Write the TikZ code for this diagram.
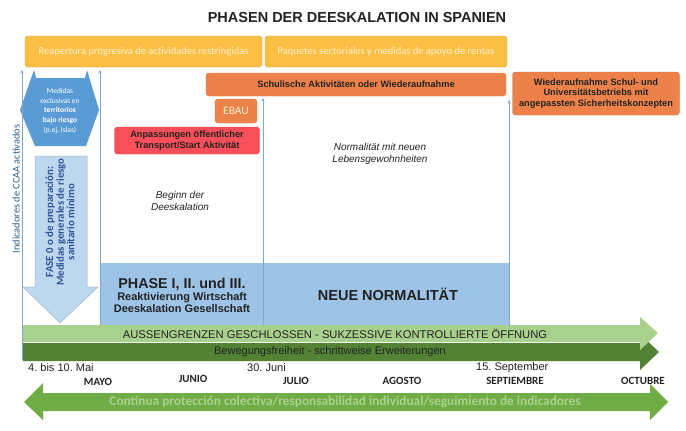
\documentclass[tikz,border=0pt]{standalone}
\usepackage{fontspec}
\setmainfont{Liberation Sans}
\newfontfamily\calibri{Carlito}
\usetikzlibrary{arrows.meta}
\frenchspacing
\newcommand\fsz[2]{\fontsize{#1}{#2}\selectfont}
\definecolor{ylw}{HTML}{FBBF45}
\definecolor{ylwtxt}{HTML}{FEF0CC}
\definecolor{org}{HTML}{EC824A}
\definecolor{redbox}{HTML}{F84F5B}
\definecolor{hexblue}{HTML}{5B9BD5}
\definecolor{arrblue}{HTML}{BDD7EE}
\definecolor{arrbluedraw}{HTML}{9CBBD8}
\definecolor{phblue}{HTML}{9DC3E6}
\definecolor{lgreen}{HTML}{A9D18E}
\definecolor{dgreen}{HTML}{548235}
\definecolor{mgreen}{HTML}{70AD47}
\definecolor{lineblue}{HTML}{7FA8CC}
\definecolor{fasetxt}{HTML}{2F5597}
\definecolor{indtxt}{HTML}{2E5E8C}
\definecolor{txtdark}{HTML}{222222}
\tikzset{
  ybox/.style={fill=ylw, draw=ylw!85!black, line width=0.4pt, rounded corners=3pt, inner sep=0pt},
  obox/.style={fill=org, draw=org!90!black, line width=0.4pt, rounded corners=3pt, inner sep=0pt, align=center},
  rbox/.style={fill=redbox, draw=redbox!90!black, line width=0.4pt, rounded corners=3pt, inner sep=0pt, align=center},
  vline/.style={draw=lineblue, line width=0.8pt, -{Stealth[length=3.5pt,width=3pt]}},
  lbl/.style={inner sep=0pt, text=txtdark},
  month/.style={inner sep=0pt, font=\calibri\bfseries\fsz{11}{12}, text=txtdark},
}
\begin{document}
\begin{tikzpicture}[x=1pt,y=-1pt]
\useasboundingbox (0,0) rectangle (686,431);
\fill[white] (0,0) rectangle (686,431);

% title
\node[lbl, font=\bfseries\fsz{14.5}{16}] (title) at (357,18) {PHASEN DER DEESKALATION IN SPANIEN};

% yellow boxes
\node[ybox, minimum width=237pt, minimum height=31pt, text=ylwtxt, font=\calibri\fsz{10.5}{12}] (y1) at (143.5,51.5) {Reapertura progresiva de actividades restringidas};
\node[ybox, minimum width=242pt, minimum height=31pt, text=ylwtxt, font=\calibri\fsz{10.5}{12}] (y2) at (386,51.5) {Paquetes sectoriales y medidas de apoyo de rentas};

% orange boxes
\node[obox, minimum width=300pt, minimum height=23pt, font=\bfseries\fsz{9.2}{10}, text=txtdark] (school) at (356,84.5) {Schulische Aktivitäten oder Wiederaufnahme};
\node[obox, minimum width=167pt, minimum height=43pt, font=\bfseries\fsz{9.2}{10.2}, text=txtdark] (univ) at (596,93.5) {Wiederaufnahme Schul- und\\Universitätsbetriebs mit\\angepassten Sicherheitskonzepten};
\node[obox, minimum width=42pt, minimum height=24pt, font=\calibri\fsz{11.5}{12}, text=ylwtxt] (ebau) at (236,111) {EBAU};
\node[rbox, minimum width=145pt, minimum height=27pt, font=\bfseries\fsz{9.2}{11}, text=txtdark] (transp) at (187,140.5) {Anpassungen öffentlicher\\Transport/Start Aktivität};

% blue hexagon (left-right arrow)
\fill[hexblue] (20,110) -- (34,70) -- (36,78) -- (85,78) -- (87,70) -- (99,110) -- (86,146) -- (35,146) -- cycle;
\node[inner sep=0pt, align=center, text=white, font=\calibri\fsz{7.5}{9.8}] (hex) at (60,111) {Medidas\\exclusivas en\\\textbf{territorios}\\\textbf{bajo riesgo}\\(p.ej. Islas)};

% FASE 0 down arrow
\filldraw[fill=arrblue, draw=arrbluedraw, line width=0.5pt] (35,156) -- (87,156) -- (87,287) -- (98,287) -- (60,323) -- (23,287) -- (35,287) -- cycle;
\node[inner sep=0pt, align=center, rotate=90, text=fasetxt, font=\calibri\bfseries\fsz{10.8}{10.6}] (fase) at (60,222) {FASE 0 o de preparación:\\Medidas generales de riesgo\\sanitario mínimo};

% indicator text
\node[inner sep=0pt, rotate=90, text=indtxt, font=\calibri\fsz{10.3}{11}] (ind) at (16,189) {Indicadores de CCAA activados};

% phase boxes
\fill[phblue] (100,263) rectangle (263,325);
\fill[phblue] (263,263) rectangle (509,325);
\node[inner sep=0pt, align=center, text=txtdark] (phase) at (182,295) {{\bfseries\fsz{14.3}{14}PHASE I, II. und III.}\\[0pt]{\bfseries\fsz{11}{14}Reaktivierung Wirtschaft}\\{\bfseries\fsz{11}{14}Deeskalation Gesellschaft}};
\node[inner sep=0pt, text=txtdark, font=\bfseries\fsz{14.5}{15}] (neue) at (388,294) {NEUE NORMALITÄT};

% italic labels
\node[inner sep=0pt, align=center, text=txtdark, font=\itshape\fsz{10}{12.5}] (beginn) at (180,201) {Beginn der\\Deeskalation};
\node[inner sep=0pt, align=center, text=txtdark, font=\itshape\fsz{10}{12.5}] (normal) at (380,154) {Normalität mit neuen\\Lebensgewohnheiten};

% green arrows
\fill[dgreen] (23,343) -- (640,343) -- (640,334) -- (659,352) -- (640,370) -- (640,361) -- (23,361) -- cycle;
\fill[lgreen] (23,325) -- (640,325) -- (640,317) -- (658,333) -- (640,350) -- (640,342) -- (23,342) -- cycle;
\node[inner sep=0pt, text=txtdark, font=\fsz{11.2}{12}] (aussen) at (335,334) {AUSSENGRENZEN GESCHLOSSEN - SUKZESSIVE KONTROLLIERTE ÖFFNUNG};
\node[inner sep=0pt, text=txtdark, font=\fsz{11}{12}] (beweg) at (330,352) {Bewegungsfreiheit - schrittweise Erweiterungen};

% vertical lines
\coordinate (l1b) at (22,360); \coordinate (l1t) at (22,70);
\coordinate (l2b) at (100,325); \coordinate (l2t) at (100,70);
\coordinate (l3b) at (263,325); \coordinate (l3t) at (263,98);
\coordinate (l4b) at (509,327); \coordinate (l4t) at (509,100);
\draw[vline] (l1b) -- (l1t);
\draw[vline] (l2b) -- (l2t);
\draw[vline] (l3b) -- (l3t);
\draw[vline] (l4b) -- (l4t);

% dates
\node[lbl, anchor=west, font=\fsz{11}{12}] (d1) at (28,368) {4. bis 10. Mai};
\node[lbl, anchor=west, font=\fsz{11}{12}] (d2) at (247,368) {30. Juni};
\node[lbl, anchor=west, font=\fsz{11}{12}] (d3) at (476,368) {15. September};

% months
\node[month] (mayo) at (98,382) {MAYO};
\node[month] (junio) at (193,379) {JUNIO};
\node[month] (julio) at (296,381) {JULIO};
\node[month] (agosto) at (402,381) {AGOSTO};
\node[month] (sept) at (515,381) {SEPTIEMBRE};
\node[month] (oct) at (643,381) {OCTUBRE};

% bottom double arrow
\fill[mgreen] (24,402) -- (43,383) -- (43,393) -- (650,393) -- (650,384) -- (668,402) -- (650,420) -- (650,411) -- (43,411) -- (43,420) -- cycle;
\node[inner sep=0pt, text=lgreen, font=\calibri\bfseries\fsz{13.3}{14}] (cont) at (345,402) {Continua protección colectiva/responsabilidad individual/seguimiento de indicadores};
\end{tikzpicture}
\end{document}
